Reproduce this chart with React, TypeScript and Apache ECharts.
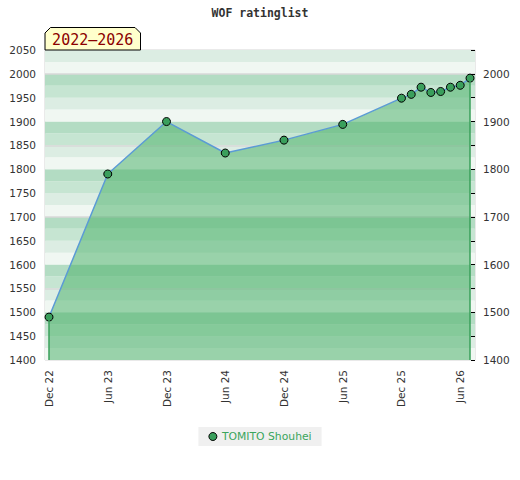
import React, { useEffect, useRef } from "react";
import * as echarts from "echarts";

const seriesName = "TOMITO Shouhei";
const dates = ["2022-12", "2023-06", "2023-12", "2024-06", "2024-12", "2025-06", "2025-12", "2026-01", "2026-02", "2026-03", "2026-04", "2026-05", "2026-06", "2026-07"];
const ratings = [1490, 1790, 1900, 1834, 1861, 1894, 1949, 1957, 1972, 1961, 1963, 1972, 1976, 1991];
const tickDates = ["2022-12", "2023-06", "2023-12", "2024-06", "2024-12", "2025-06", "2025-12", "2026-06"];
const tickLabels = ["Dec 22", "Jun 23", "Dec 23", "Jun 24", "Dec 24", "Jun 25", "Dec 25", "Jun 26"];
const gridLineValues = [1550, 1700, 1850, 2000];
const yMin = 1400;
const yMax = 2050;
const badgeText = "2022–2026";
const titleText = "WOF ratinglist";

const monthIndex = (s: string) => {
  const [y, m] = s.split("-").map(Number);
  return (y - 2022) * 12 + (m - 12);
};

export default function App() {
  const ref = useRef<HTMLDivElement>(null);
  useEffect(() => {
    document.body.style.margin = "0";
    const chart = echarts.init(ref.current!, null, { renderer: "svg" });
    const pts = dates.map((d, i) => [monthIndex(d), ratings[i]]);
    const first = pts[0];
    const last = pts[pts.length - 1];
    const tickVals = tickDates.map(monthIndex);
    const font = "DejaVu Sans";
    chart.setOption({
      animation: false,
      backgroundColor: "#fff",
      title: {
        text: titleText,
        left: "center",
        top: 7,
        padding: 0,
        textStyle: { fontFamily: "DejaVu Sans Mono", fontWeight: "bold", fontSize: 11.5, color: "#333" },
      },
      legend: {
        data: [seriesName],
        top: 427,
        left: "center",
        icon: "circle",
        itemWidth: 8,
        itemHeight: 8,
        padding: [4, 10],
        backgroundColor: "#f0f0f0",
        itemStyle: { borderColor: "#000", borderWidth: 1 },
        textStyle: { fontFamily: font, fontSize: 10.8, color: "#3aa55c" },
      },
      grid: { left: 45, right: 45, top: 50, bottom: 120, show: true, borderColor: "#d4d4d4", borderWidth: 1, backgroundColor: "transparent" },
      xAxis: {
        type: "value",
        min: -0.41,
        max: 43.51,
        axisLine: { show: false },
        axisTick: { show: false },
        splitLine: { show: false },
        axisLabel: {
          customValues: tickVals,
          rotate: 90,
          margin: 10,
          fontFamily: font,
          fontSize: 10.5,
          color: "#333",
          formatter: (v: number) => {
            const i = tickVals.indexOf(Math.round(v));
            return i >= 0 ? tickLabels[i] : "";
          },
        },
      },
      yAxis: [
        {
          type: "value",
          position: "left",
          min: yMin,
          max: yMax,
          interval: 50,
          axisLine: { show: false },
          axisTick: { show: false },
          splitLine: { show: false },
          axisLabel: { fontFamily: font, fontSize: 10.5, color: "#333", margin: 9, formatter: (v: number) => String(v) },
        },
        {
          type: "value",
          position: "right",
          min: yMin,
          max: yMax,
          interval: 50,
          axisLine: { show: false },
          axisTick: { show: true, inside: true, length: 4, lineStyle: { color: "#000" } },
          splitLine: { show: false },
          axisLabel: {
            fontFamily: font,
            fontSize: 10.5,
            color: "#333",
            margin: 8,
            formatter: (v: number) => (v % 100 === 0 ? String(v) : ""),
          },
        },
        {
          type: "value",
          position: "left",
          min: yMin,
          max: yMax,
          interval: 25,
          axisLine: { show: false },
          axisTick: { show: false },
          axisLabel: { show: false },
          splitLine: { show: false },
          splitArea: { show: true, areaStyle: { color: ["#f0f7f2", "#dcede3", "#c6e5d2", "#b3dcc3"] } },
        },
        {
          type: "value",
          position: "left",
          min: yMin,
          max: yMax,
          axisLine: { show: false },
          axisTick: { show: false, customValues: gridLineValues },
          axisLabel: { show: false, customValues: gridLineValues },
          splitLine: { show: true, lineStyle: { color: "#d8d8d8", width: 1.5 } },
          splitArea: { show: false },
        },
      ],
      graphic: [
        {
          type: "polygon",
          z: 100,
          shape: { points: [[45, 50], [45, 33], [50.5, 27.5], [135, 27.5], [140.5, 33], [140.5, 50]] },
          style: { fill: "#ffffcc", stroke: "#000", lineWidth: 1 },
        },
        {
          type: "text",
          z: 101,
          x: 92.75,
          y: 39.5,
          style: {
            text: badgeText,
            fill: "#8b0000",
            font: "15px 'DejaVu Sans Mono'",
            textAlign: "center",
            textVerticalAlign: "middle",
          },
        },
      ],
      series: [
        {
          type: "line",
          name: seriesName,
          data: pts,
          z: 3,
          symbol: "circle",
          symbolSize: 8,
          itemStyle: { color: "#3a9f5c", borderColor: "#000", borderWidth: 1 },
          lineStyle: { color: "#5b9bd5", width: 1.5 },
          areaStyle: { color: "rgba(72,176,103,0.52)", opacity: 1, origin: "start" },
          markLine: {
            silent: true,
            symbol: ["none", "none"],
            label: { show: false },
            lineStyle: { color: "#3a9f5a", width: 1.5, type: "solid" },
            data: [
              [{ coord: [first[0], first[1]] }, { coord: [first[0], yMin] }],
              [{ coord: [last[0], last[1]] }, { coord: [last[0], yMin] }],
            ],
          },
        },
      ],
    });
    return () => chart.dispose();
  }, []);
  return <div ref={ref} style={{ width: 520, height: 480 }} />;
}
